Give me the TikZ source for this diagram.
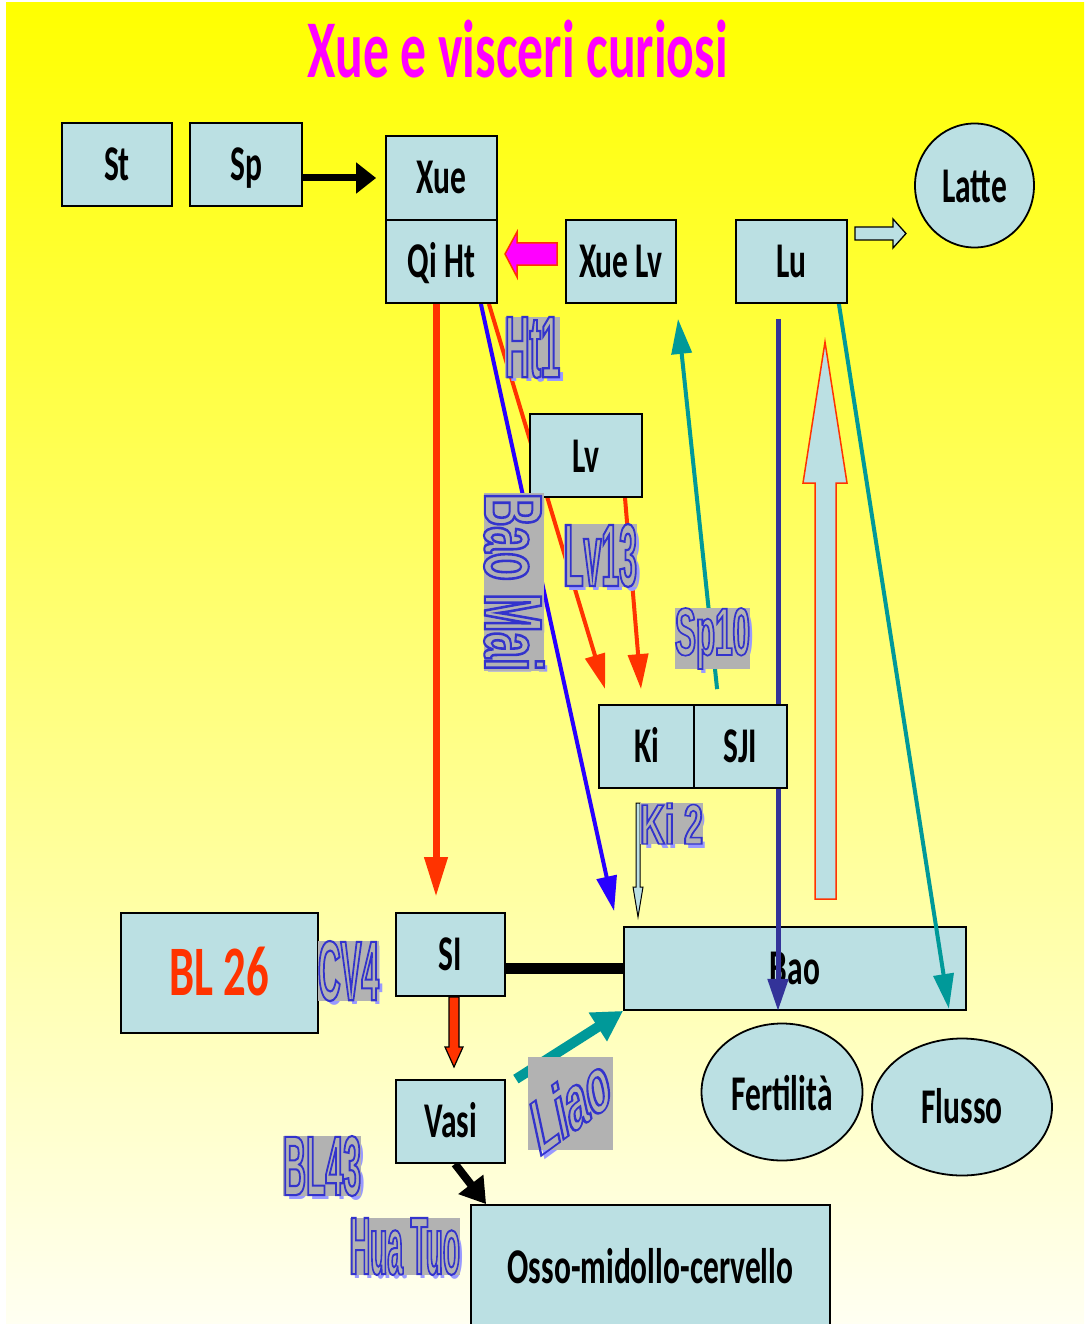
\documentclass[tikz,border=0pt]{standalone}
\usepackage{fontspec}
\usepackage{graphicx}
\usetikzlibrary{arrows.meta,shapes.geometric,calc}
\newfontfamily\boxfont{Carlito}[FakeStretch=0.63]
\newfontfamily\olfont{Liberation Sans}[FakeStretch=0.45]
\definecolor{boxblue}{RGB}{187,224,227}
\definecolor{redorange}{RGB}{255,51,0}
\definecolor{mag}{RGB}{255,0,255}
\definecolor{tealc}{RGB}{0,153,153}
\definecolor{navyc}{RGB}{51,51,153}
\definecolor{bluev}{RGB}{40,0,255}
\definecolor{labgray}{RGB}{178,178,178}
\definecolor{olblue}{RGB}{51,51,204}
\definecolor{shadowblue}{RGB}{153,153,255}
\definecolor{bgtop}{RGB}{255,255,0}
\definecolor{bgbot}{RGB}{255,255,242}
\pgfdeclarelayer{bgl}\pgfdeclarelayer{low}\pgfdeclarelayer{lines}
\pgfsetlayers{bgl,low,lines,main}
% outlined text: stroke-only text rendering mode
\newcommand\olt[3]{\resizebox*{#1pt}{#2pt}{\olfont\bfseries\fontsize{20}{24}\selectfont\special{pdf:literal direct 1 Tr 0.5 w}#3\special{pdf:literal direct 0 Tr}}}
\newcommand\olsh[3]{\resizebox*{#1pt}{#2pt}{\olfont\bfseries\fontsize{20}{24}\selectfont #3}}
\tikzset{
  box/.style={draw=black, line width=1.8pt, fill=boxblue, inner sep=0pt,
    font=\boxfont\bfseries\fontsize{50}{60}\selectfont, text height=32pt, text depth=0pt},
  oval/.style={box, ellipse},
  lab/.style={fill=labgray, inner sep=0pt, text=olblue},
  labsh/.style={inner sep=0pt, text=shadowblue},
  thin4/.style={line width=4pt},
  tipA/.style={-{Triangle[length=35pt,width=20pt]}},
  hollow/.style={fill=boxblue, draw=black, line width=1.3pt, line join=miter},
}
\newcommand\olabel[6]{%
  \node[labsh] at (#2+4,#3+4) {\olsh{#4}{#5}{#6}};
  \node[lab] (#1) at (#2,#3) {\olt{#4}{#5}{#6}};}
\begin{document}
\begin{tikzpicture}[x=1pt,y=-1pt]
\useasboundingbox (0,0) rectangle (1084,1324);
\begin{pgfonlayer}{bgl}
  \fill[white] (0,0) rectangle (1084,1324);
  \shade[top color=bgtop, bottom color=bgbot] (6,3) rectangle (1084,1324);
\end{pgfonlayer}

% title
\node[font=\boxfont\bfseries\fontsize{82}{90}\selectfont, text=mag, anchor=base, inner sep=0pt] (title) at (518,78) {Xue e visceri curiosi};

% boxes
\node[box, minimum width=110, minimum height=83] (St) at (117,164.5) {St};
\node[box, minimum width=112, minimum height=83] (Sp) at (246,164.5) {Sp};
\node[box, minimum width=111, minimum height=84] (Xue) at (441.5,178) {Xue};
\node[box, minimum width=111, minimum height=83] (QiHt) at (441.5,261.5) {Qi Ht};
\node[box, minimum width=110, minimum height=83] (XueLv) at (621,261.5) {Xue Lv};
\node[box, minimum width=111, minimum height=83] (Lu) at (791.5,261.5) {Lu};
\node[oval, minimum width=119, minimum height=124, text height=34pt] (Latte) at (974.5,185.5) {Latte};
\node[box, minimum width=112, minimum height=83, text height=33pt] (Lv) at (586,455.5) {Lv};
\node[box, minimum width=95, minimum height=83] (Ki) at (646.5,746.5) {Ki};
\node[box, minimum width=93, minimum height=83] (SJI) at (740.5,746.5) {SJI};
\node[box, minimum width=109, minimum height=83] (SI) at (450.5,954.5) {SI};
\node[box, minimum width=197, minimum height=120, text=redorange,
  font=\boxfont\bfseries\fontsize{71}{80}\selectfont, text height=44pt] (BL26) at (219.5,973) {BL 26};
\begin{pgfonlayer}{low}
\node[box, minimum width=342, minimum height=83] (Bao) at (795,968.5) {Bao};
\end{pgfonlayer}
\node[oval, minimum width=161, minimum height=137, text height=36pt] (Fert) at (782,1092) {Fertilità};
\node[oval, minimum width=180, minimum height=137] (Flusso) at (962,1107) {Flusso};
\node[box, minimum width=109, minimum height=83] (Vasi) at (450.5,1121.5) {Vasi};
\node[box, minimum width=359, minimum height=125] (Osso) at (650.5,1267.5) {Osso-midollo-cervello};

% connectors
\begin{pgfonlayer}{lines}
\draw[line width=7pt, -{Triangle[length=20pt,width=30pt]}] (Sp.east |- Xue.west) -- ([xshift=-9pt]Xue.west);
\draw[redorange, line width=7pt, -{Triangle[length=40pt,width=22pt]}] ([xshift=-5.5pt]QiHt.south) -- ([xshift=-14.5pt,yshift=15pt]SI.north);
\draw[bluev, thin4, tipA] ([xshift=-17pt]QiHt.south east) -- ([xshift=-9pt,yshift=15pt]Bao.north west);
\draw[redorange, thin4, tipA] ([xshift=-9pt]QiHt.south east) -- ([xshift=7pt,yshift=15pt]Ki.north west);
\draw[redorange, thin4, tipA] ([xshift=39pt]Lv.south) -- ([xshift=-5.5pt,yshift=15pt]Ki.north);
\draw[tealc, thin4, tipA] ([xshift=24pt,yshift=15pt]SJI.north west) -- ([xshift=57pt,yshift=-15pt]XueLv.south);
\draw[navyc, line width=5pt, -{Triangle[length=32pt,width=20pt]}] ([xshift=-13.5pt,yshift=-15pt]Lu.south) -- ([xshift=-17pt]Bao.south);
\draw[tealc, thin4, tipA] ([xshift=-9pt]Lu.south east) -- ([xshift=-18pt,yshift=2pt]Bao.south east);
\draw[line width=11pt] (SI.east |- Bao.west) -- (Bao.west);
\draw[tealc, line width=10pt, -{Triangle[length=30pt,width=32pt]}] ([xshift=10pt]Vasi.north east) -- (Bao.south west);
\draw[line width=8pt, -{Triangle[length=25pt,width=30pt]}] ([xshift=4.5pt]Vasi.south) -- ([xshift=16pt]Osso.north west);
% block arrows
\draw[fill=mag, draw=redorange, line width=1.5pt] (557,243) -- (517,243) -- (517,232) -- (505,254) -- (517,277) -- (517,265) -- (557,265) -- cycle;
\draw[hollow] (855,227) -- (893,227) -- (893,219) -- (906,233.5) -- (893,248) -- (893,240) -- (855,240) -- cycle;
\draw[fill=boxblue, draw=redorange, line width=1.5pt] (815,899) -- (815,483) -- (803,483) -- (825,342) -- (847,483) -- (836,483) -- (836,899) -- cycle;
\draw[fill=boxblue, draw=black, line width=1pt] (636,803) -- (636,887) -- (633,887) -- (638,917) -- (643,887) -- (640,887) -- (640,803) -- cycle;
\draw[fill=redorange, draw=black, line width=1.2pt] (449,997) -- (449,1047) -- (445,1047) -- (454,1067) -- (463,1047) -- (459,1047) -- (459,997) -- cycle;
\end{pgfonlayer}

% outlined labels
\olabel{Ht1}{532.5}{347.5}{55}{61}{Ht1}
\olabel{Lv13}{600.5}{555.5}{73}{63}{Lv13}
\olabel{Sp10}{712.5}{638.5}{75}{61}{Sp10}
\olabel{Ki2}{671.5}{823.5}{63}{41}{Ki 2}
\olabel{CV4}{348.5}{971}{61}{60}{CV4}
\olabel{BL43}{322}{1166}{78}{60}{BL43}
\olabel{HuaTuo}{405}{1246.5}{110}{57}{Hua Tuo}
\node[labsh, rotate=-90] at (518,586) {\olsh{178}{60}{Bao Mai}};
\node[lab, rotate=-90] (BaoMai) at (514,582) {\olt{178}{60}{Bao Mai}};
\node[labsh, cm={0.81,0.59,-0.21,0.98,(0,0)}] at (574.5,1107.5) {\olsh{92}{56}{Liao}};
\node[lab, minimum width=85, minimum height=93] (LiaoBox) at (570.5,1103.5) {};
\node[inner sep=0pt, text=olblue, cm={0.81,0.59,-0.21,0.98,(0,0)}] (Liao) at (570.5,1103.5) {\olt{92}{56}{Liao}};
\end{tikzpicture}
\end{document}
